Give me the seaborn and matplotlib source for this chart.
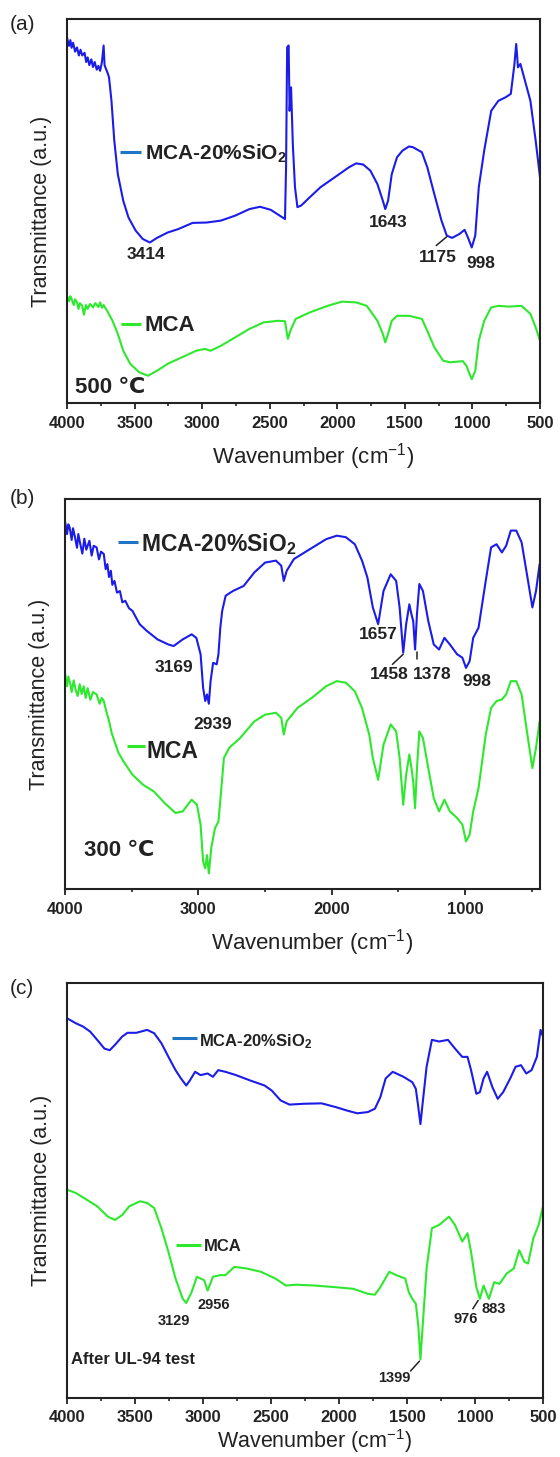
import numpy as np
import pandas as pd
import matplotlib
matplotlib.use("Agg")
import matplotlib.pyplot as plt
import seaborn as sns

# ---------------- data (wavenumber cm-1, transmittance a.u.) ----------------
a_sio2_wn = [4000, 3985, 3975, 3966, 3955, 3940, 3926, 3912, 3900, 3887, 3870, 3858, 3847, 3835, 3820,
             3808, 3795, 3780, 3768, 3755, 3742, 3729, 3722, 3716, 3700, 3689, 3671, 3650, 3624, 3584,
             3545, 3492, 3439, 3387, 3334, 3255, 3176, 3071, 2966, 2861, 2755, 2650, 2571, 2492, 2413,
             2387, 2379, 2371, 2360, 2353, 2342, 2329, 2313, 2295, 2268, 2203, 2124, 2018, 1913, 1861,
             1808, 1755, 1703, 1663, 1645, 1624, 1597, 1558, 1518, 1470, 1439, 1374, 1334, 1282, 1229,
             1190, 1150, 1097, 1058, 1032, 1005, 979, 953, 913, 861, 808, 755, 716, 689, 676, 663, 645,
             611, 571, 532, 500]
a_sio2_t = [95.2, 93.0, 94.5, 92.5, 93.8, 91.5, 92.6, 90.5, 92.0, 90.5, 91.2, 88.8, 90.0, 88.0, 89.5,
            87.5, 88.8, 86.8, 87.8, 86.5, 88.7, 93.1, 88.0, 87.4, 86.0, 84.8, 78.7, 68.3, 59.6, 52.7,
            48.3, 44.9, 42.7, 41.8, 43.0, 44.4, 45.3, 46.9, 47.0, 47.5, 48.8, 50.5, 51.1, 50.3, 48.5,
            47.9, 61.4, 92.6, 93.1, 76.1, 82.2, 67.4, 56.2, 51.0, 51.4, 53.6, 56.2, 58.8, 61.4, 62.4,
            62.1, 60.5, 57.0, 52.7, 50.5, 52.7, 59.6, 64.0, 65.7, 66.8, 66.6, 65.3, 61.4, 54.4, 47.5,
            43.6, 43.0, 44.0, 45.1, 43.0, 40.5, 43.6, 56.2, 65.7, 76.1, 78.7, 79.6, 80.5, 88.3, 93.5, 87.4, 88.3,
            83.9, 78.7, 68.3, 58.8]
a_mca_wn = [4000, 3985, 3975, 3966, 3950, 3940, 3926, 3915, 3905, 3887, 3875, 3860, 3847, 3830, 3808,
            3790, 3768, 3755, 3742, 3729, 3703, 3663, 3624, 3584, 3532, 3466, 3400, 3334, 3255, 3150,
            3045, 2979, 2939, 2861, 2755, 2650, 2545, 2439, 2387, 2366, 2347, 2308, 2203, 2071, 1966,
            1861, 1782, 1703, 1663, 1645, 1624, 1597, 1558, 1466, 1374, 1334, 1282, 1216, 1163, 1071,
            1045, 1005, 979, 953, 913, 861, 808, 729, 637, 571, 532, 500]
a_mca_t = [27.9, 26.5, 27.8, 27.1, 25.5, 27.0, 26.2, 24.5, 26.0, 25.3, 23.0, 25.5, 24.5, 25.8, 24.9,
           26.0, 25.0, 26.2, 24.8, 25.5, 24.0, 21.4, 18.0, 13.6, 10.2, 8.0, 7.1, 8.4, 10.2, 11.9,
           13.6, 14.1, 13.6, 14.9, 17.1, 19.3, 21.0, 21.4, 21.3, 16.7, 18.8, 21.9, 23.6, 25.3, 26.4,
           26.2, 25.3, 21.4, 18.0, 15.8, 18.0, 21.4, 22.7, 22.7, 21.9, 18.8, 14.5, 11.0, 10.6, 10.9,
           9.7, 6.2, 8.4, 16.2, 21.4, 24.9, 25.3, 25.1, 25.3, 23.2, 19.7, 16.2]

b_sio2_wn = [4000, 3985, 3975, 3965, 3950, 3940, 3925, 3910, 3900, 3885, 3870, 3855, 3840, 3817, 3800,
             3785, 3763, 3745, 3730, 3709, 3695, 3682, 3670, 3656, 3645, 3629, 3610, 3588, 3570, 3548,
             3520, 3494, 3440, 3387, 3306, 3225, 3185, 3117, 3050, 3015, 2983, 2964, 2948, 2935, 2921,
             2908, 2889, 2862, 2849, 2835, 2821, 2795, 2741, 2660, 2579, 2499, 2418, 2378, 2359, 2337,
             2283, 2203, 2122, 2041, 1961, 1893, 1826, 1772, 1732, 1691, 1651, 1611, 1557, 1516, 1490,
             1463, 1441, 1417, 1401, 1388, 1374, 1360, 1342, 1315, 1275, 1234, 1194, 1154, 1113, 1059,
             1019, 992, 965, 938, 898, 844, 804, 763, 723, 691, 656, 615, 575, 535, 494, 467, 440]
b_sio2_t = [94.4, 91.0, 93.5, 92.7, 89.5, 92.5, 90.2, 87.5, 91.0, 88.4, 86.0, 89.8, 87.0, 89.3, 85.5,
            88.0, 87.6, 84.5, 86.5, 85.9, 82.0, 83.3, 80.0, 81.6, 78.0, 79.0, 76.0, 76.4, 73.5, 73.9,
            72.0, 71.3, 67.9, 66.2, 64.0, 62.7, 62.3, 64.0, 65.3, 64.4, 60.2, 51.6, 48.2, 49.9, 47.5,
            53.3, 58.0, 57.6, 60.2, 67.0, 71.3, 75.2, 76.4, 77.7, 81.2, 83.7, 84.2, 82.9, 79.0, 81.6,
            84.6, 86.3, 88.0, 89.7, 90.6, 90.2, 88.4, 84.2, 79.9, 72.2, 67.9, 76.4, 80.7, 79.0, 72.2,
            60.6, 67.9, 73.0, 70.4, 68.7, 61.4, 70.4, 78.2, 76.4, 68.7, 62.7, 61.4, 64.4, 62.7, 60.2,
            59.3, 56.7, 58.4, 64.4, 67.0, 79.0, 87.6, 88.4, 86.3, 88.0, 91.9, 91.9, 88.9, 80.7, 72.2, 76.4, 83.3]
b_mca_wn = [4000, 3985, 3975, 3960, 3950, 3935, 3920, 3905, 3890, 3875, 3860, 3845, 3830, 3810, 3790,
            3763, 3740, 3725, 3709, 3690, 3669, 3650, 3629, 3600, 3561, 3494, 3413, 3333, 3252, 3171,
            3117, 3050, 3010, 2983, 2964, 2948, 2935, 2921, 2903, 2875, 2849, 2827, 2808, 2768, 2687,
            2579, 2499, 2418, 2378, 2359, 2337, 2257, 2149, 2041, 1961, 1893, 1826, 1772, 1718, 1691,
            1651, 1611, 1557, 1516, 1490, 1463, 1441, 1417, 1401, 1388, 1374, 1360, 1342, 1315, 1275,
            1234, 1194, 1154, 1113, 1059, 1019, 992, 965, 938, 898, 844, 804, 763, 723, 691, 656, 615,
            575, 535, 494, 467, 440]
b_mca_t = [55.4, 52.0, 54.5, 52.5, 50.5, 53.5, 51.0, 49.5, 52.5, 50.0, 52.0, 49.0, 51.5, 48.5, 50.5,
           49.9, 47.5, 49.0, 48.2, 45.5, 43.0, 40.0, 37.9, 35.0, 32.7, 29.3, 26.7, 25.0, 22.0, 19.5,
           19.9, 22.9, 21.6, 16.5, 7.0, 5.3, 8.7, 4.0, 10.5, 15.6, 17.3, 25.9, 33.6, 36.2, 38.7,
           43.0, 44.7, 45.2, 43.9, 39.6, 43.0, 46.4, 49.0, 52.0, 53.3, 52.9, 50.7, 46.4, 39.6, 33.6,
           28.0, 37.0, 42.2, 40.4, 33.6, 21.6, 29.3, 34.5, 31.0, 27.6, 20.7, 31.0, 40.4, 38.7, 31.0,
           23.3, 19.9, 22.9, 19.9, 18.2, 16.5, 12.2, 13.9, 19.9, 25.9, 39.6, 46.4, 48.2, 48.6, 49.9, 53.3, 53.3,
           49.9, 40.4, 31.0, 36.2, 43.0]

c_sio2_wn = [4000, 3935, 3882, 3830, 3778, 3725, 3686, 3647, 3594, 3555, 3490, 3411, 3359, 3306, 3254,
             3202, 3162, 3123, 3097, 3058, 3018, 2966, 2927, 2888, 2835, 2757, 2652, 2547, 2495, 2429,
             2364, 2259, 2128, 2024, 1945, 1866, 1788, 1736, 1696, 1657, 1605, 1526, 1461, 1435, 1417,
             1401, 1388, 1356, 1317, 1264, 1199, 1147, 1094, 1055, 1029, 990, 964, 937, 911, 872, 833,
             793, 741, 702, 662, 623, 584, 545, 518, 500]
c_sio2_t = [91.5, 90.3, 89.5, 88.3, 86.3, 84.2, 83.8, 85.1, 87.1, 88.0, 88.0, 88.7, 87.9, 85.5, 82.2,
            79.0, 77.0, 75.3, 76.5, 78.6, 77.8, 78.2, 77.4, 79.0, 78.6, 77.8, 76.5, 75.3, 74.1, 71.7,
            70.7, 70.9, 71.0, 70.1, 69.3, 68.6, 68.9, 69.7, 72.5, 77.0, 78.6, 77.4, 76.1, 74.5, 70.1,
            66.0, 70.1, 79.8, 86.3, 85.9, 86.3, 84.2, 82.2, 82.2, 79.0, 73.3, 73.7, 77.0, 78.6, 74.9, 72.1,
            73.7, 77.0, 79.8, 80.2, 78.2, 79.0, 82.2, 88.7, 87.1]
c_mca_wn = [4000, 3935, 3856, 3778, 3699, 3647, 3594, 3542, 3463, 3411, 3359, 3306, 3254, 3202, 3149,
            3123, 3084, 3045, 2992, 2966, 2927, 2874, 2835, 2770, 2678, 2573, 2469, 2390, 2312, 2181,
            2024, 1893, 1788, 1736, 1696, 1631, 1579, 1513, 1487, 1461, 1435, 1417, 1401, 1383, 1356,
            1317, 1264, 1191, 1147, 1094, 1055, 1029, 990, 964, 937, 898, 859, 820, 767, 715, 675, 636,
            610, 571, 532, 500]
c_mca_t = [50.2, 49.4, 47.8, 46.2, 43.7, 42.9, 44.1, 46.2, 47.4, 47.0, 45.8, 40.9, 35.2, 28.8, 23.9,
           22.9, 25.5, 29.2, 28.4, 25.9, 29.2, 29.6, 29.6, 31.6, 31.2, 30.4, 28.8, 27.1, 27.3, 27.1,
           26.7, 26.3, 25.1, 24.9, 26.7, 30.4, 29.6, 28.8, 25.5, 23.9, 22.7, 17.4, 9.3, 18.2, 31.2,
           40.9, 41.7, 43.7, 41.7, 37.7, 39.7, 35.2, 26.7, 23.9, 27.1, 23.9, 27.9, 27.5, 30.0, 31.2, 35.6, 32.8,
           32.4, 38.5, 41.7, 46.2]

series_names = ["MCA-20%SiO$_\\mathbf{2}$", "MCA"]
panel_tags = ["(a)", "(b)", "(c)"]
panel_notes = ["500 \u2103", "300 \u2103", "After UL-94 test"]

# peak labels: (text, wavenumber, transmittance)
a_peaks = [("3414", 3413, 38.8), ("1643", 1624, 47.0), ("1175", 1255, 37.9), ("998", 940, 36.2)]
b_peaks = [("3169", 3185, 56.7), ("2939", 2889, 42.2), ("1657", 1651, 65.3),
           ("1458", 1570, 55.0), ("1378", 1248, 55.0), ("998", 911, 53.3)]
c_peaks = [("3129", 3215, 18.6), ("2956", 2919, 22.3), ("1399", 1592, 4.9),
           ("976", 1068, 19.0), ("883", 859, 21.5)]
# leader lines: (wn0, t0, wn1, t1)
a_leaders = [(1268, 41.0, 1190, 43.3)]
b_leaders = [(1544, 57.6, 1463, 60.2), (1363, 58.9, 1363, 60.8)]
c_leaders = [(1474, 6.5, 1408, 8.9), (1016, 21.5, 977, 23.5)]

# ---------------- style ----------------
sns.set_theme(style="ticks")
plt.rcParams["font.family"] = ["Liberation Sans", "DejaVu Sans"]
plt.rcParams["mathtext.fontset"] = "custom"
plt.rcParams["mathtext.rm"] = "Liberation Sans"
plt.rcParams["mathtext.bf"] = "Liberation Sans:bold"
plt.rcParams["mathtext.it"] = "Liberation Sans:italic"

BLUE = "#1c1ce8"
GREEN = "#2ee82e"
KEYBLUE = "#1f74c4"

W, H = 560, 1457
fig = plt.figure(figsize=(W / 100, H / 100), dpi=100)

panels = [
    dict(rect=[67, 19, 540, 403], xlim=(4000, 500), major=500, minor=250,
         blue=(a_sio2_wn, a_sio2_t), green=(a_mca_wn, a_mca_t), peaks=a_peaks, leaders=a_leaders,
         keys=[(3611, 3453, 65.3, 3426, 64.8, 15), (3597, 3453, 20.6, 3426, 20.1, 16)],
         note=(3940, 4.1, 16), peak_fs=12.5, tag_y=25, xlab_y=-0.10, xlab_fs=16),
    dict(rect=[65, 499, 540, 889], xlim=(4000, 437), major=1000, minor=500,
         blue=(b_sio2_wn, b_sio2_t), green=(b_mca_wn, b_mca_t), peaks=b_peaks, leaders=b_leaders,
         keys=[(3602, 3454, 88.9, 3427, 88.4, 16.5), (3535, 3400, 36.6, 3387, 35.3, 16.5)],
         note=(3857, 10.0, 16), peak_fs=12.5, tag_y=499, xlab_y=-0.097, xlab_fs=16),
    dict(rect=[67, 983, 543, 1398], xlim=(4000, 500), major=500, minor=250,
         blue=(c_sio2_wn, c_sio2_t), green=(c_mca_wn, c_mca_t), peaks=c_peaks, leaders=c_leaders,
         keys=[(3228, 3045, 86.7, 3031, 85.9, 12), (3202, 3018, 36.9, 2992, 36.5, 12)],
         note=(3974, 9.3, 12), peak_fs=10.5, tag_y=988, xlab_y=-0.071, xlab_fs=15.5),
]

for i, p in enumerate(panels):
    x0, y0, x1, y1 = p["rect"]
    ax = fig.add_axes([x0 / W, 1 - y1 / H, (x1 - x0) / W, (y1 - y0) / H])
    for (wn, t), col in ((p["blue"], BLUE), (p["green"], GREEN)):
        df = pd.DataFrame({"wn": wn, "t": t})
        sns.lineplot(data=df, x="wn", y="t", ax=ax, color=col, lw=1.5,
                     sort=False, estimator=None)
    ax.set_xlim(*p["xlim"])
    ax.set_ylim(0, 100)
    ax.set_yticks([])
    ax.xaxis.set_major_locator(matplotlib.ticker.MultipleLocator(p["major"]))
    ax.xaxis.set_minor_locator(matplotlib.ticker.MultipleLocator(p["minor"]))
    ax.tick_params(axis="x", which="major", direction="out", length=4, width=1.3,
                   color="#222222", labelsize=12, pad=5, labelcolor="#222222")
    ax.tick_params(axis="x", which="minor", direction="out", length=2.5, width=1.2, color="#222222")
    for lab in ax.get_xticklabels():
        lab.set_fontweight("bold")
    for s in ax.spines.values():
        s.set_linewidth(1.5)
        s.set_color("#222222")
        s.set_visible(True)
    ax.set_xlabel("Wavenumber (cm$^{-1}$)", fontsize=p["xlab_fs"], color="#222222")
    ax.set_ylabel("Transmittance (a.u.)", fontsize=15.5, color="#222222")
    ax.xaxis.set_label_coords(0.52, p["xlab_y"])
    ax.yaxis.set_label_coords(-0.032, 0.5)

    # inline keys
    for (k0, k1, ky, tx, ty, fs), name, col in zip(p["keys"], series_names, (KEYBLUE, GREEN)):
        ax.plot([k0, k1], [ky, ky], color=col, lw=2.2, solid_capstyle="butt")
        ax.text(tx, ty, name, fontsize=fs, fontweight="bold", ha="left", va="center", color="#222222")

    for txt, wx, ty in p["peaks"]:
        ax.text(wx, ty, txt, fontsize=p["peak_fs"], fontweight="bold", ha="center", va="center",
                color="#222222")
    for l0, t0, l1, t1 in p["leaders"]:
        ax.plot([l0, l1], [t0, t1], color="#222222", lw=1.1)

    nx, ny, nfs = p["note"]
    ax.text(nx, ny, panel_notes[i], fontsize=nfs, fontweight="bold", ha="left", va="center",
            color="#222222")

    fig.text(10 / W, 1 - p["tag_y"] / H, panel_tags[i], fontsize=15, ha="left", va="center",
             color="#222222")

fig.savefig("out.png", dpi=100)
